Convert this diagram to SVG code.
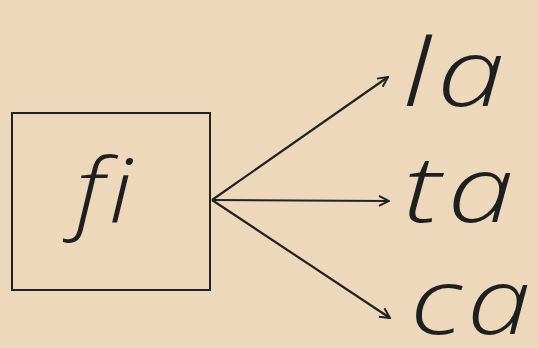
<svg xmlns="http://www.w3.org/2000/svg" width="538" height="348" viewBox="0 0 538 348">
<style>
.t{font-family:"Open Sans","DejaVu Sans",sans-serif;font-style:italic;font-weight:300;fill:#1f1f1f;font-variant-ligatures:none}
.c{stroke:#222;stroke-width:2.2;fill:none}
</style>
<defs>
<marker id="ah" viewBox="0 0 12 12" refX="11" refY="6" markerWidth="12" markerHeight="12" markerUnits="userSpaceOnUse" orient="auto">
<path d="M1,1 L11,6 L1,11" fill="none" stroke="#222" stroke-width="2"/>
</marker>
</defs>
<rect width="538" height="348" fill="#eed8bb"/>
<g id="node-fi">
<rect x="12" y="113" width="198" height="177" fill="none" stroke="#222" stroke-width="2"/>
<text class="t" transform="translate(106,222) scale(1.15,1)" font-size="88" text-anchor="middle" letter-spacing="4">fi</text>
</g>
<g id="node-la"><text class="t" transform="translate(403,106) scale(1.3,1)" font-size="94" letter-spacing="5">la</text></g>
<g id="node-ta"><text class="t" transform="translate(403,222) scale(1.3,1)" font-size="92" letter-spacing="5">ta</text></g>
<g id="node-ca"><text class="t" transform="translate(410,334) scale(1.25,1)" font-size="92" letter-spacing="4">ca</text></g>
<g id="connectors">
<line class="c" x1="212" y1="200" x2="388" y2="77" marker-end="url(#ah)"/>
<line class="c" x1="212" y1="200" x2="389" y2="201" marker-end="url(#ah)"/>
<line class="c" x1="212" y1="200" x2="390" y2="318" marker-end="url(#ah)"/>
</g>
</svg>
